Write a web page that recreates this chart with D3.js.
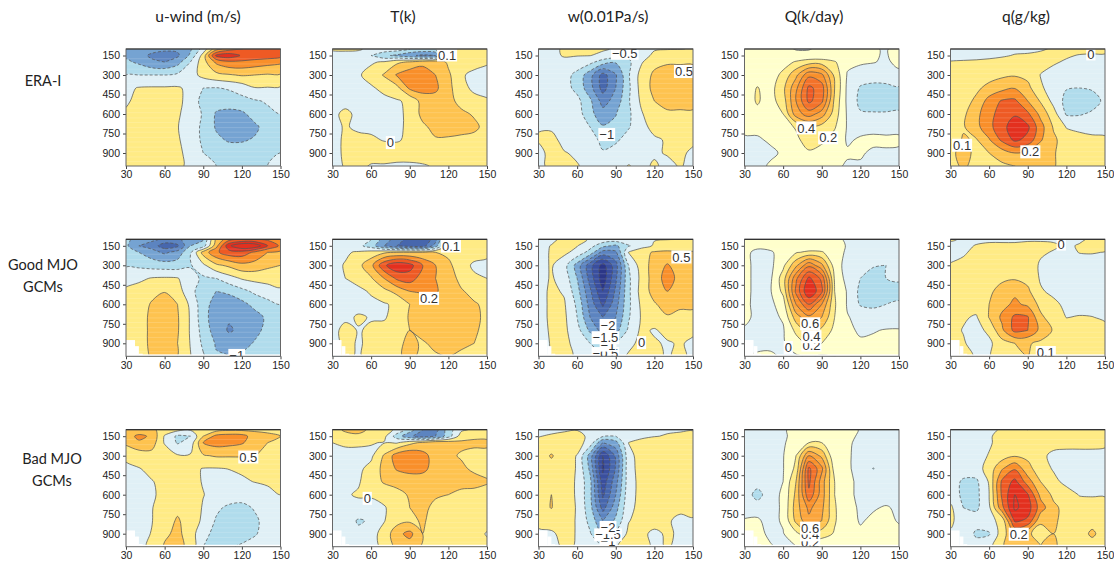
<!DOCTYPE html>
<html><head><meta charset="utf-8">
<style>html,body{margin:0;padding:0;background:#fff}svg{display:block}</style>
<script src="https://cdn.jsdelivr.net/npm/d3@7"></script>
</head><body><svg id="c" width="1114" height="564"></svg>
<script>
const longitudes=[30,40,50,60,70,80,90,100,110,120,130,140,150];
const pressures=[100,150,200,300,400,500,600,700,800,900,1000];
const lonTicks=[30,60,90,120,150];
const pTicks=[150,300,450,600,750,900];
const columnTitles=["u-wind (m/s)","T(k)","w(0.01Pa/s)","Q(k/day)","q(g/kg)"];
const rowTitles=[["ERA-I"],["Good MJO","GCMs"],["Bad MJO","GCMs"]];
const contourSteps=[0.5,0.1,0.5,0.2,0.1];
const stripeLevels=[175,215,255,290,330,365,405,440,480,515,555,590,630,665,705,740,780,815,855,890,930,965];
const terrainLon=[30,37,40,43];
const terrainP=[875,922,980];

const uEra=[
[-1.1,-1.2,-1.3,-1.4,-1.4,-1.1,-.3,.8,1.3,1.5,1.7,1.9,1.9],
[-1.1,-1.3,-1.6,-1.7,-1.6,-.9,.2,2.1,2.3,1.95,1.85,1.8,1.7],
[-.9,-1.1,-1.4,-1.5,-1.2,-.5,.3,1.1,1.4,1.4,1.3,1.2,1.1],
[-.5,-.5,-.5,-.5,-.4,-.2,.15,.35,.45,.55,.5,.45,.45],
[-.1,.03,.05,.05,.05,-.1,-.5,-.52,-.45,-.3,-.02,-.03,-.05],
[-.05,.1,.15,.15,.1,-.15,-.7,-.8,-.75,-.65,-.55,-.45,-.35],
[.05,.15,.2,.2,.06,-.2,-.55,-1.05,-1.15,-1.1,-.8,-.6,-.5],
[.1,.15,.2,.2,.02,-.25,-.6,-1.05,-1.3,-1.3,-1.1,-.8,-.65],
[.1,.15,.2,.2,.05,-.2,-.6,-.9,-1.05,-1.05,-.95,-.75,-.6],
[.1,.15,.2,.2,.1,-.15,-.5,-.7,-.75,-.75,-.7,-.6,-.5],
[.1,.15,.2,.2,.1,-.1,-.4,-.5,-.55,-.55,-.5,-.5,-.45]];
const tEra=[
[.02,.02,.01,-.02,-.03,-.05,-.1,-.12,-.1,.0,.05,.06,.07],
[-.05,-.04,-.03,-.1,-.18,-.22,-.28,-.32,-.3,.03,.06,.06,.05],
[-.03,-.02,-.01,-.01,.01,.08,.11,.16,.17,.08,.06,.03,.01],
[-.03,-.02,-.01,.03,.11,.21,.27,.28,.2,.12,.01,-.02,-.03],
[-.03,-.03,-.02,-.01,.02,.07,.22,.24,.22,.13,.03,-.02,-.03],
[-.03,-.03,-.02,-.02,-.02,-.01,.02,.14,.16,.13,.07,.03,.01],
[-.02,.02,-.02,-.02,-.02,-.02,.02,.13,.15,.14,.12,.09,.06],
[-.03,.01,-.02,-.02,-.03,-.02,.02,.08,.13,.13,.13,.12,.07],
[-.04,.02,.03,.015,-.005,-.01,.02,.06,.09,.09,.08,.07,.06],
[-.04,.02,.05,.05,.05,.05,.05,.05,.05,.05,.05,.05,.05],
[-.04,.01,.03,-.01,-.01,-.02,-.02,-.01,.01,.02,.03,.03,.03]];
const wEra=[
[-.1,-.1,.05,.1,.1,.05,-.05,-.2,-.2,-.02,-.01,-.005,.01],
[-.15,-.15,.05,.02,.01,-.1,-.25,-.4,-.1,.05,.1,.1,.15],
[-.2,-.2,-.15,-.2,-.35,-.75,-.95,-.6,-.05,.35,.45,.45,.45],
[-.2,-.2,-.3,-.65,-1.3,-2.2,-1.55,-.55,.2,.6,.7,.7,.7],
[-.2,-.25,-.3,-.65,-1.3,-2.2,-1.5,-.6,.2,.65,.8,.8,.75],
[-.2,-.25,-.2,-.35,-.9,-1.7,-1.3,-.55,.1,.5,.6,.7,.7],
[-.2,-.2,-.2,-.25,-.85,-1.3,-1.02,-.6,-.05,.35,.45,.4,.4],
[-.02,-.05,-.2,-.2,-.5,-.95,-.9,-.55,-.1,.1,.12,.12,.1],
[.03,.1,-.1,-.15,-.25,-.65,-.6,-.25,-.1,-.05,.03,.02,.05],
[-.1,.1,.02,-.05,-.2,-.45,-.25,-.2,-.1,-.05,.03,.05,-.05],
[-.1,.1,.03,.02,-.1,-.2,-.15,.02,-.1,.05,-.1,.03,-.1]];
const qHeatEra=[
[.05,.05,.05,.05,-.01,-.01,.05,.05,.1,.05,.02,-.02,.1],
[.05,.05,.05,.05,.05,.05,.06,.05,.05,.05,.02,-.02,.1],
[.05,.05,.06,.12,.22,.3,.3,.22,.05,.03,.01,-.03,.05],
[.08,.1,.1,.25,.55,.95,.85,.35,-.02,-.1,-.12,-.1,-.05],
[.1,.21,.12,.35,.75,1.25,1.1,.4,-.05,-.22,-.25,-.25,-.22],
[.1,.22,.12,.3,.8,1.25,1.05,.35,-.05,-.25,-.3,-.3,-.25],
[.1,.15,.12,.2,.7,.9,.7,.3,-.03,-.18,-.18,-.18,-.18],
[.05,.04,.08,.12,.22,.38,.32,.22,-.02,-.05,-.05,-.05,-.03],
[-.03,-.02,.02,.08,.15,.3,.25,.12,-.02,.02,.04,.03,.02],
[-.05,-.05,-.03,.02,.1,.17,.1,.05,.02,.02,-.03,-.02,-.02],
[-.05,-.05,.02,.02,.03,.03,.05,.03,-.02,-.02,-.03,-.03,-.03]];
const qEra=[
[-.03,-.03,-.03,-.03,-.02,-.02,-.02,-.01,.01,.02,.03,.03,.03],
[-.03,-.03,-.02,-.02,-.01,.005,.01,.02,.03,.01,-.005,-.01,-.01],
[.005,.01,.01,.02,.03,.04,.04,.03,.01,-.01,-.015,-.02,-.02],
[.03,.04,.05,.06,.08,.09,.07,-.003,-.03,-.04,-.04,-.04,-.04],
[.03,.05,.08,.13,.17,.195,.13,.01,-.03,-.095,-.1,-.09,-.07],
[.03,.06,.12,.24,.31,.32,.2,.09,-.03,-.13,-.15,-.14,-.08],
[.04,.08,.17,.27,.34,.39,.32,.17,.04,-.11,-.11,-.085,-.06],
[.05,.09,.17,.27,.37,.45,.42,.24,.09,-.005,-.02,-.03,-.02],
[.05,.11,.09,.19,.32,.42,.37,.21,.12,.05,.03,.02,.01],
[.08,.13,.08,.1,.15,.2,.17,.13,.11,.05,.05,.05,.05],
[.06,.12,.06,.07,.08,.1,.11,.11,.11,.05,.05,.05,.05]];
const uGood=[
[-.9,-1.2,-1.4,-1.6,-1.6,-1.3,-1.05,.6,1.3,1.5,1.5,1.4,1.4],
[-.9,-1.5,-1.7,-2.3,-2.1,-1.0,-.75,.8,2.4,3.0,2.9,2.0,1.4],
[-.8,-1,-1.3,-1.6,-1.3,-.6,.7,1.4,1.8,1.8,1.4,1.0,.9],
[-.55,-.6,-.7,-.75,-.75,-.55,-.1,.4,.6,.85,.8,.6,.5],
[-.2,-.1,.03,.06,.03,-.3,-.6,-.5,-.2,.05,.15,.2,.25],
[.1,.2,.35,.48,.2,-.3,-.85,-1.0,-.9,-.65,-.4,-.25,-.1],
[.15,.25,.55,.7,.5,-.1,-.8,-1.2,-1.3,-1.15,-.85,-.65,-.5],
[.2,.3,.6,.8,.55,-.05,-.8,-1.3,-1.45,-1.4,-1.2,-.9,-.7],
[.2,.3,.6,.8,.55,-.05,-.7,-1.25,-1.55,-1.4,-1.15,-.85,-.7],
[.2,.3,.6,.75,.5,-.02,-.6,-1.05,-1.25,-1.2,-.95,-.75,-.6],
[.2,.3,.55,.7,.5,.02,-.45,-.95,-1.0,-.9,-.8,-.7,-.6]];
const tGood=[
[-.02,-.03,-.05,-.1,-.25,-.35,-.45,-.5,-.35,.02,.05,.05,.05],
[-.02,-.03,-.07,-.15,-.3,-.4,-.45,-.45,-.25,.06,.07,.07,.05],
[-.02,-.01,.01,.04,.08,.1,.1,.1,.1,.08,.07,.05,.03],
[-.02,.005,.07,.17,.38,.48,.44,.3,.2,.12,.05,-.02,-.03],
[-.02,.0,.03,.09,.2,.32,.35,.25,.2,.15,.07,.02,.0],
[-.03,-.03,-.02,.01,.07,.13,.2,.21,.21,.16,.11,.07,.06],
[-.03,-.03,-.03,-.02,-.01,.02,.1,.14,.15,.16,.14,.11,.08],
[-.03,-.02,.01,-.005,-.01,.04,.11,.15,.16,.16,.14,.12,.08],
[-.03,.03,-.005,.01,.03,.06,.1,.13,.15,.15,.13,.11,.08],
[-.04,.03,-.01,.02,.05,.08,.12,.09,.12,.14,.12,.1,.08],
[-.04,.02,-.01,.03,.06,.08,.13,.07,.09,.1,.08,.07,.06]];
const wGood=[
[-.1,-.1,.1,.08,-.02,-.15,-.2,-.1,-.05,-.02,-.01,-.005,.01],
[-.15,.02,.12,.02,-.3,-.85,-1.1,-.55,-.2,.05,.15,.2,.2],
[-.2,.05,.1,-.15,-.7,-1.7,-1.6,.02,.35,.55,.6,.55,.55],
[-.2,.05,-.3,-1.2,-2.3,-3.2,-2.2,-.5,.25,.7,1.05,.75,.65],
[-.2,.05,-.2,-1.0,-2.2,-3.3,-2.1,-.6,.15,.75,1.2,.85,.7],
[-.2,.1,-.05,-.8,-1.9,-3.0,-1.9,-.6,.2,.7,1.0,.75,.7],
[-.2,.1,.05,-.6,-1.7,-2.6,-1.7,-.6,.1,.45,.7,.6,.6],
[-.2,.1,.1,-.5,-1.5,-2.0,-1.5,-.55,.05,.3,.45,.35,.35],
[-.3,.1,.1,-.3,-1.1,-1.7,-1.2,-.4,.1,-.05,.15,.2,.1],
[-.3,.05,.12,-.15,-.5,-.9,-.5,-.1,.1,.05,-.05,.05,-.1],
[-.3,.03,.1,-.05,-.1,-.3,-.2,.05,.05,.1,-.05,.1,-.1]];
const qHeatGood=[
[.02,.03,.05,.03,.01,.01,.02,.03,-.02,-.04,-.04,-.04,-.04],
[.03,.03,.05,.05,.05,.05,.06,.05,-.01,-.05,-.06,-.06,-.05],
[.03,-.03,-.02,.06,.18,.24,.22,.08,-.03,-.05,-.08,-.1,-.1],
[.05,-.05,-.05,.15,.55,.95,.65,.1,-.08,-.12,-.18,-.2,-.15],
[.05,-.05,-.04,.3,.95,1.45,1.15,.17,-.08,-.2,-.3,-.2,-.18],
[.05,-.05,-.02,.25,1.05,1.6,1.25,.2,-.02,-.25,-.35,-.28,-.25],
[.05,-.06,-.05,.1,.8,1.2,.8,.22,-.02,-.22,-.25,-.2,-.18],
[.05,-.05,-.05,.02,.5,.75,.6,.2,.01,-.05,-.08,-.1,-.08],
[-.03,-.05,-.04,-.02,.25,.5,.35,.15,.03,-.02,-.01,.01,.01],
[-.03,-.04,-.03,-.02,.1,.25,.2,.05,.02,.02,.03,.03,.03],
[-.01,.02,.02,-.02,-.02,.02,-.02,.0,.03,.04,.04,.04,.04]];
const qGood=[
[.01,-.01,-.02,-.02,-.02,-.02,-.01,-.01,-.01,-.02,-.01,.01,.02],
[-.02,-.02,.005,.02,.02,.02,.02,.02,.01,-.01,.005,.02,.02],
[-.02,-.01,.02,.03,.03,.03,.03,.01,-.005,-.02,.002,.004,-.002],
[.005,.02,.03,.04,.05,.05,.04,-.01,-.02,-.03,-.03,-.03,-.03],
[.01,.03,.04,.06,.08,.09,.07,-.01,-.03,-.04,-.04,-.04,-.04],
[.01,.03,.04,.08,.14,.18,.12,.01,-.02,-.04,-.04,-.04,-.04],
[.02,.03,.04,.1,.17,.22,.18,.07,.02,-.02,-.03,-.03,-.03],
[.02,.01,-.01,.105,.22,.32,.31,.12,.05,-.002,.005,.002,-.01],
[.03,-.005,-.03,.02,.18,.33,.3,.17,.09,.05,.04,.03,.02],
[.03,.01,-.04,-.02,.06,.1,.11,.08,.06,.05,.04,.04,.03],
[.03,.03,-.01,-.005,.03,.05,.1,.05,.05,.05,.04,.03,.03]];
const uBad=[
[.55,.55,.6,.3,.15,.05,.02,.3,.4,.4,.4,.4,.4],
[.7,1.15,.9,-.05,-.6,-.5,.5,1.15,1.25,1.2,.75,.6,.5],
[.6,.9,.75,-.05,-.55,-.3,1.0,1.2,1.15,1.05,.75,.5,.42],
[.1,.2,.3,.35,.05,.05,.45,.55,.55,.55,.52,.3,.3],
[-.1,-.02,.1,.2,.2,.1,-.02,-.03,.01,.05,.1,.15,.2],
[-.15,-.1,-.02,.1,.2,.1,-.02,-.1,-.15,-.05,.01,.05,.08],
[-.2,-.15,-.05,.1,.2,.1,.01,-.1,-.2,-.25,-.2,-.1,.0],
[-.2,-.2,-.02,.2,.4,.2,-.03,-.4,-.6,-.65,-.45,-.25,-.2],
[-.2,-.2,-.02,.3,.55,.3,-.1,-.55,-.7,-.7,-.6,-.3,-.2],
[-.2,-.15,.02,.42,.6,.3,-.45,-.55,-.65,-.65,-.55,-.3,-.2],
[-.2,-.1,.08,.55,.65,.35,-.5,-.55,-.55,-.45,-.3,-.2,-.2]];
const tBad=[
[.05,.12,.13,.08,.04,-.02,-.15,-.3,-.35,-.15,-.02,.02,.03],
[.04,.06,.08,.06,.03,-.15,-.28,-.35,-.3,-.15,.05,.08,.08],
[.0,.005,.005,.005,-.005,-.01,.07,.12,.18,.16,.12,.12,.12],
[-.02,-.01,-.01,-.02,.11,.25,.29,.24,.15,.12,.09,.07,.07],
[-.03,-.02,-.02,.03,.13,.21,.23,.22,.17,.14,.12,.08,.07],
[-.03,-.02,-.01,.05,.11,.13,.15,.16,.16,.15,.14,.14,.11],
[-.02,-.01,.01,.01,.04,.07,.11,.14,.11,.1,.07,.06,.06],
[-.03,-.03,-.03,-.03,-.01,.05,.1,.12,.08,.06,.05,.05,.05],
[-.03,-.05,-.11,-.09,-.005,.06,.08,.11,.07,.05,.05,.05,.05],
[-.03,-.06,-.08,-.03,.03,.17,.23,.1,.06,.05,.05,.05,-.01],
[-.03,-.04,-.04,-.03,.02,.13,.15,.09,.06,.05,.05,.05,.03]];
const wBad=[
[-.1,-.1,-.05,-.02,-.1,-.1,-.1,-.1,-.1,-.1,-.05,-.03,-.02],
[-.02,.05,.1,.15,-.1,-.45,-.5,-.4,-.1,-.02,.03,.05,.1],
[.1,.15,.2,.2,-.2,-1.5,-1.2,.01,.15,.25,.3,.3,.3],
[.2,.55,.2,-.02,-1.2,-3.0,-1.9,-.15,.2,.3,.3,.3,.3],
[.2,.3,.2,-.03,-1.1,-3.1,-1.95,-.15,.15,.3,.3,.3,.3],
[.2,.2,.2,-.05,-.85,-2.8,-1.7,-.2,.15,.3,.3,.3,.3],
[.3,.5,.2,-.05,-.85,-2.6,-1.5,-.15,.12,.3,.3,.3,.3],
[.3,.52,.2,-.03,-.8,-2.2,-1.2,-.1,.12,.3,.25,.1,.15],
[.15,.15,.15,-.03,-.65,-1.5,-.9,-.02,.15,.15,.05,-.1,-.05],
[-.1,-.05,.1,-.02,-.45,-1.1,-.45,.1,.08,-.08,.05,-.05,-.05],
[-.1,-.1,.05,-.02,-.1,-.4,-.02,.1,.1,-.05,.02,-.05,-.05]];
const qHeatBad=[
[-.05,-.05,-.05,-.02,.05,.05,.05,.05,.05,-.01,-.05,-.05,-.02],
[-.05,-.05,-.05,-.03,.06,.1,.1,.1,.05,-.03,-.05,-.05,-.05],
[-.05,-.05,-.05,-.02,.08,.2,.2,.1,.03,-.05,-.05,-.05,-.05],
[-.05,-.05,-.05,-.01,.2,.8,.55,.02,.02,-.05,-.05,-.05,-.05],
[-.05,-.05,-.05,-.01,.25,1.25,.85,.1,.02,-.05,-.21,-.05,-.05],
[-.06,-.08,-.05,.0,.4,1.25,.7,.2,.05,-.05,-.08,-.05,-.05],
[-.05,-.3,-.05,.02,.45,1.15,.7,.2,.03,-.03,-.04,-.05,-.05],
[-.05,-.06,-.05,.02,.5,.85,.65,.22,.05,-.02,-.01,.01,-.02],
[.01,.02,-.05,.02,.45,.75,.6,.22,.05,-.01,.02,.03,-.01],
[.02,.03,-.02,-.01,.15,.35,.3,.18,.02,.02,.02,.03,.03],
[.02,.03,.01,-.03,-.01,.05,.02,.01,.01,.01,.01,.01,.01]];
const qBad=[
[-.02,-.02,-.02,-.02,.01,.01,.0,.01,.02,.03,.03,.03,.03],
[-.002,-.02,-.02,-.01,.03,.04,.05,.05,.05,.05,.05,.05,.05],
[-.02,-.03,-.03,-.01,.03,.05,.05,.05,.03,.03,.03,.03,.02],
[-.03,-.03,-.03,.005,.05,.09,.08,.02,-.02,-.03,-.03,-.03,-.03],
[-.03,-.04,-.04,.04,.19,.29,.13,.05,-.01,-.04,-.05,-.05,-.05],
[-.04,-.12,-.12,.01,.32,.43,.25,.1,.03,-.03,-.05,-.05,-.05],
[-.05,-.12,-.13,.0,.32,.5,.41,.17,.08,.05,-.005,-.01,-.01],
[.02,-.1,-.12,-.02,.27,.52,.45,.25,.12,.07,.05,.05,.05],
[.03,-.08,-.05,-.03,.03,.42,.38,.12,.12,.06,.05,.06,.05],
[-.02,-.02,-.12,-.11,.05,.2,.12,.05,.1,.06,.05,.12,.05],
[-.02,-.03,-.05,-.03,.08,.2,.15,.1,.12,.05,.05,.05,.05]];

const panelValues=[[uEra,tEra,wEra,qHeatEra,qEra],[uGood,tGood,wGood,qHeatGood,qGood],[uBad,tBad,wBad,qHeatBad,qBad]];
const labelText=[
 [[],["0.1","0"],["−0.5","0.5","−1"],["0.4","0.2"],["0","0.1","0.2"]],
 [["−1"],["0.1","0.2"],["0.5","−0.5","−1","−1.5","−2","0"],["0.2","0.4","0.6","0"],["0","0.1"]],
 [["0.5"],["0"],["−1","−1.5","−2"],["0.2","0.4","0.6"],["0.2"]]];
const labelLon=[
 [[],[119,75],[97,143,83],[78,95],[139,39,92]],
 [[116],[122,105],[141,82,84,82,84,110],[82,82,81,64],[116,104]],
 [[125],[57],[84,84,84],[81,81,81],[83]]];
const labelP=[
 [[],[146,820],[133,273,758],[707,783],[138,840,891]],
 [[993],[152,554],[236,979,914,857,763,895],[914,849,750,932],[137,971]],
 [[310],[628],[961,909,852],[969,909,857],[904]]];

/* layout and styling */
const colLeft=[126,332.5,538.5,744.5,950.5], colWidth=154.5;
const rowTop=[49,239.3,429.7], rowHeight=117;
const titleX=[198,403,608,814,1026];
const rowLabelX=[43,43,52], rowLabelY=[[81],[265,287],[459,481]];
const negColors=["#e0f0f6","#b0dcec","#75a3d2","#5c84c0","#4767ad","#3a4f9e","#2c3788","#232a70"];
const posColors=["#ffeb85","#fec34f","#f98f2a","#ee5a24","#e3301f","#e3301f","#e3301f","#e3301f","#e3301f","#e3301f"];
const heatPos=["#ffffcc","#ffeb85","#fec34f","#fba53c","#f98f2a","#f3722a","#ee5a24","#e3301f","#e3301f","#e3301f"];
const svg=d3.select("#c");
const defs=svg.append("defs");
const lonIdx=d3.scaleLinear().domain([.5,12.5]).range([30,150]);
const pIdx=d3.scaleLinear().domain(pressures.map((_,i)=>i+.5)).range(pressures);

columnTitles.forEach((t,i)=>svg.append("text").attr("x",titleX[i]).attr("y",22).attr("text-anchor","middle")
  .style("font","15.5px Lato").attr("fill","#222").text(t));
rowTitles.forEach((lines,r)=>lines.forEach((t,j)=>svg.append("text").attr("x",rowLabelX[r]).attr("y",rowLabelY[r][j]+5)
  .attr("text-anchor","middle").style("font","14.5px Lato").attr("fill","#222").text(t)));

panelValues.forEach((row,r)=>row.forEach((rows,c)=>{
  rows.forEach(a=>{if(a.length!==13)throw new Error("bad row "+r+","+c+":"+a.length)});
  if(rows.length!==11)throw new Error("bad rows "+r+","+c);
  const x=d3.scaleLinear().domain([30,150]).range([0,colWidth]);
  const y=d3.scaleLinear().domain([100,1000]).range([0,rowHeight]);
  const g=svg.append("g").attr("transform",`translate(${colLeft[c]},${rowTop[r]})`);
  const id=`clip${r}${c}`;
  defs.append("clipPath").attr("id",id).append("rect").attr("width",colWidth).attr("height",rowHeight);
  const body=g.append("g").attr("clip-path",`url(#${id})`);
  const step=contourSteps[c];
  const pos=c===3?heatPos:posColors;
  const vals=rows.flat();
  const lo=d3.min(vals),hi=d3.max(vals);
  const kMin=Math.floor(lo/step),kMax=Math.floor(hi/step);
  const color=k=>k>=0?pos[Math.min(k,pos.length-1)]:negColors[Math.min(-k-1,negColors.length-1)];
  body.append("rect").attr("width",colWidth).attr("height",rowHeight).attr("fill",color(kMin));
  const ks=d3.range(kMin+1,kMax+1);
  const gen=d3.contours().size([13,11]).thresholds(ks.map(k=>k*step+1e-9));
  const cs=gen(vals);
  const line=d3.line().x(q=>x(lonIdx(q[0]))).y(q=>y(pIdx(q[1]))).curve(d3.curveCatmullRomClosed.alpha(.5));
  const pathOf=m=>m.coordinates.map(poly=>poly.map(ring=>line(ring.slice(0,-1))).join("")).join("");
  cs.forEach((m,i)=>{
    body.append("path").attr("d",pathOf(m)).attr("fill",color(ks[i])).attr("fill-rule","evenodd");
  });
  body.selectAll("line.s").data(stripeLevels).join("line").attr("x1",0).attr("x2",colWidth)
    .attr("y1",p=>y(p)).attr("y2",p=>y(p)).attr("stroke","#fff").attr("stroke-opacity",.2).attr("stroke-width",.8);
  cs.forEach((m,i)=>{
    const p=body.append("path").attr("d",pathOf(m)).attr("fill","none").attr("stroke","#555").attr("stroke-width",.75);
    if(ks[i]<0)p.attr("stroke-dasharray","3,2");
  });
  if(r>0){
    terrainP.forEach((p,i)=>body.append("rect").attr("x",x(terrainLon[i])).attr("width",x(terrainLon[i+1])-x(terrainLon[i]))
      .attr("y",y(p)).attr("height",rowHeight-y(p)).attr("fill","#fff"));
    body.append("rect").attr("y",y(985)).attr("width",colWidth).attr("height",rowHeight-y(985)).attr("fill","#fff");
  }
  labelText[r][c].forEach((t,i)=>{
    const tx=x(labelLon[r][c][i]),ty=y(labelP[r][c][i]);
    const tEl=body.append("text").attr("x",tx).attr("y",ty+4.6).attr("text-anchor","middle")
      .style("font","13px 'Liberation Sans'").attr("fill","#333").text(t);
    const b=tEl.node().getBBox();
    body.insert("rect",()=>tEl.node()).attr("x",b.x-1).attr("y",ty-6.5).attr("width",b.width+2).attr("height",13).attr("fill","#fff");
  });
  const ax=g.append("g").attr("transform",`translate(0,${rowHeight})`).call(d3.axisBottom(x).tickValues(lonTicks).tickSize(3).tickPadding(2).tickSizeOuter(0));
  const ay=g.append("g").call(d3.axisLeft(y).tickValues(pTicks).tickSize(3).tickPadding(3).tickSizeOuter(0));
  [ax,ay].forEach(a=>{a.selectAll("text").style("font","10.5px 'Liberation Sans'").attr("fill","#222");
    a.selectAll("line").attr("stroke","#444");a.select(".domain").remove();});
  g.append("rect").attr("width",colWidth).attr("height",rowHeight).attr("fill","none").attr("stroke","#666").attr("stroke-width",1);
  g.append("line").attr("x2",colWidth).attr("stroke","#333").attr("stroke-width",1.2);
}));
</script></body></html>
